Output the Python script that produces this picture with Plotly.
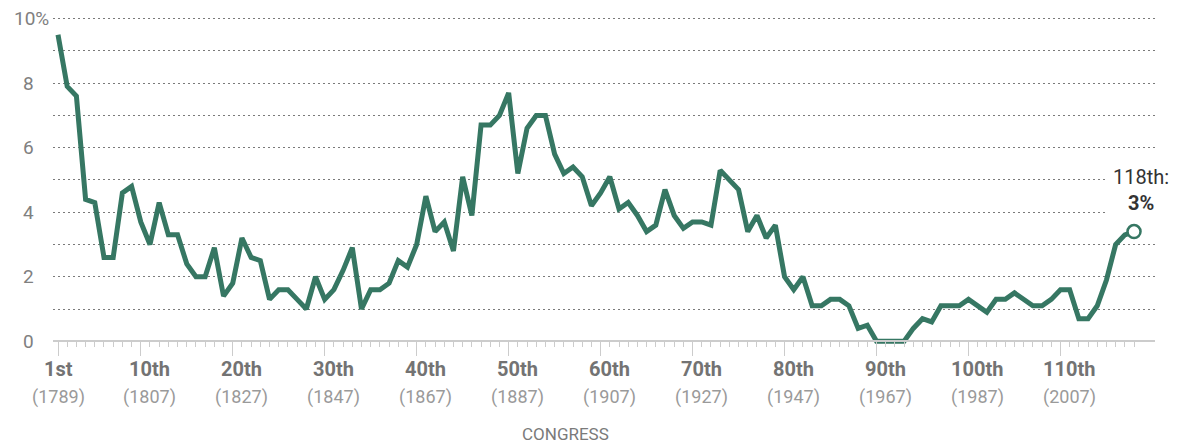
import plotly.graph_objects as go

# ---- data ----
congress = list(range(1, 119))
share = [
    9.5, 7.9, 7.6, 4.4, 4.3, 2.6, 2.6, 4.6, 4.8, 3.7,
    3.0, 4.3, 3.3, 3.3, 2.4, 2.0, 2.0, 2.9, 1.4, 1.8,
    3.2, 2.6, 2.5, 1.3, 1.6, 1.6, 1.3, 1.0, 2.0, 1.3,
    1.6, 2.2, 2.9, 1.0, 1.6, 1.6, 1.8, 2.5, 2.3, 3.0,
    4.5, 3.4, 3.7, 2.8, 5.1, 3.9, 6.7, 6.7, 7.0, 7.7,
    5.2, 6.6, 7.0, 7.0, 5.8, 5.2, 5.4, 5.1, 4.2, 4.6,
    5.1, 4.1, 4.3, 3.9, 3.4, 3.6, 4.7, 3.9, 3.5, 3.7,
    3.7, 3.6, 5.3, 5.0, 4.7, 3.4, 3.9, 3.2, 3.6, 2.0,
    1.6, 2.0, 1.1, 1.1, 1.3, 1.3, 1.1, 0.4, 0.5, 0.0,
    0.0, 0.0, 0.0, 0.4, 0.7, 0.6, 1.1, 1.1, 1.1, 1.3,
    1.1, 0.9, 1.3, 1.3, 1.5, 1.3, 1.1, 1.1, 1.3, 1.6,
    1.6, 0.7, 0.7, 1.1, 1.9, 3.0, 3.3, 3.4,
]
label_congress = [1, 10, 20, 30, 40, 50, 60, 70, 80, 90, 100, 110]
label_names = ["1st", "10th", "20th", "30th", "40th", "50th", "60th",
               "70th", "80th", "90th", "100th", "110th"]
label_years = ["(1789)", "(1807)", "(1827)", "(1847)", "(1867)", "(1887)",
               "(1907)", "(1927)", "(1947)", "(1967)", "(1987)", "(2007)"]
grid_vals = [1, 2, 3, 4, 5, 6, 7, 8, 9, 10]
ytick_vals = [0, 2, 4, 6, 8, 10]
ytick_text = ["0", "2", "4", "6", "8", "10%"]
end_label = "118th:<br><b>3%</b>"

GREEN = "#367763"
FONT = "Roboto"

Y_MIN, Y_MAX = -0.3, 10.05

fig = go.Figure()
fig.add_trace(go.Scatter(
    x=congress, y=share, mode="lines",
    line=dict(color=GREEN, width=5),
    hoverinfo="skip", showlegend=False,
))
fig.add_trace(go.Scatter(
    x=[congress[-1]], y=[share[-1]], mode="markers",
    marker=dict(size=13, color="white", line=dict(color=GREEN, width=2.5)),
    cliponaxis=False, hoverinfo="skip", showlegend=False,
))

annotations = []
# x labels
for c, name, yr in zip(label_congress, label_names, label_years):
    shift = 0 if c == 1 else 9
    annotations.append(dict(
        x=c, y=0, xref="x", yref="y", text=f"<b>{name}</b>", showarrow=False,
        xanchor="center", yanchor="middle", xshift=shift, yshift=-28,
        font=dict(family=FONT, size=20, color="#737373"),
    ))
    annotations.append(dict(
        x=c, y=0, xref="x", yref="y", text=yr, showarrow=False,
        xanchor="center", yanchor="middle", xshift=shift, yshift=-56,
        font=dict(family=FONT, size=18, color="#9a9a9a"),
    ))
# y labels
for v, t in zip(ytick_vals, ytick_text):
    if t.endswith("%"):
        annotations.append(dict(
            x=0, y=v, xref="paper", yref="y", text=t, showarrow=False,
            xanchor="left", yanchor="middle", xshift=-41,
            font=dict(family=FONT, size=19, color="#808080"),
        ))
    else:
        annotations.append(dict(
            x=0, y=v, xref="paper", yref="y", text=t, showarrow=False,
            xanchor="right", yanchor="middle", xshift=-17,
            font=dict(family=FONT, size=19, color="#808080"),
        ))
# axis title
annotations.append(dict(
    x=0.465, y=0, xref="paper", yref="y", text="CONGRESS", showarrow=False,
    xanchor="center", yanchor="middle", yshift=-93,
    font=dict(family=FONT, size=17, color="#7a7a7a"),
))
# end label
annotations.append(dict(
    x=congress[-1], y=share[-1], xref="x", yref="y", text=end_label,
    showarrow=False, xanchor="center", yanchor="bottom", xshift=7, yshift=11,
    align="center", bgcolor="white", borderpad=5,
    font=dict(family=FONT, size=20, color="#333333"),
))

fig.update_layout(
    width=1182, height=438,
    margin=dict(l=45, r=35, t=9.4, b=94.8, autoexpand=False),
    plot_bgcolor="white", paper_bgcolor="white",
    annotations=annotations,
    xaxis=dict(
        range=[0.456, 120.28], anchor="free",
        position=(0 - Y_MIN) / (Y_MAX - Y_MIN),
        showline=True, linecolor="#cccccc", linewidth=1.5,
        ticks="outside", tickmode="array", tickvals=label_congress,
        ticklen=14, tickcolor="#cccccc", tickwidth=1,
        showticklabels=False, showgrid=False, zeroline=False,
        minor=dict(tickmode="array", tickvals=congress, ticks="outside",
                   ticklen=5, tickcolor="#cccccc", tickwidth=1, showgrid=False),
    ),
    yaxis=dict(
        range=[Y_MIN, Y_MAX], tickmode="array", tickvals=grid_vals,
        showticklabels=False, showgrid=True, gridcolor="#7a7a7a",
        griddash="1.5px,3.5px", gridwidth=1, zeroline=False, showline=False,
        ticks="",
    ),
)

fig.write_html("out.html")
